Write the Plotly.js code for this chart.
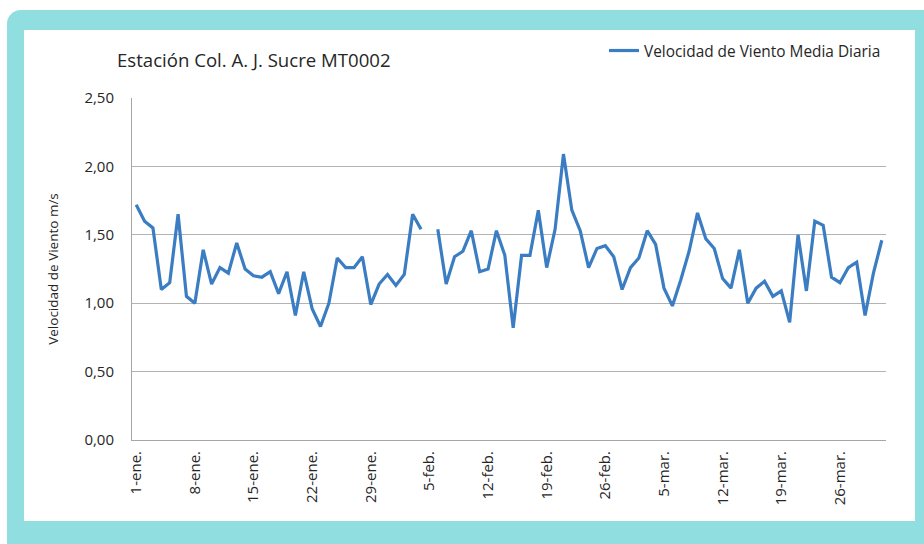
<!DOCTYPE html>
<html>
<head>
<meta charset="utf-8">
<script src="https://cdn.plot.ly/plotly-3.0.1.min.js"></script>
<style>
html,body{margin:0;padding:0;width:924px;height:544px;overflow:hidden;background:#fff;}
#frame{position:absolute;left:7px;top:10px;width:940px;height:560px;background:#90dedf;border-radius:14px;}
#inner{position:absolute;left:24px;top:30px;width:891px;height:491px;background:#fff;}
#chart{position:absolute;left:0;top:0;width:924px;height:544px;}
</style>
</head>
<body>
<div id="frame"></div>
<div id="inner"></div>
<div id="chart"></div>
<script>
// Daily mean wind speed (m/s), 1 Jan - 31 Mar; null = missing day (5-feb)
const eneValues = [1.72,1.60,1.55,1.10,1.15,1.65,1.05,1.00,1.39,1.14,1.26,1.22,1.44,1.25,1.20,1.19,1.23,1.07,1.23,0.91,1.23,0.96,0.83,1.00,1.33,1.26,1.26,1.34,0.99,1.14,1.21];
const febValues = [1.13,1.21,1.65,1.54,null,1.54,1.14,1.34,1.38,1.53,1.23,1.25,1.53,1.35,0.82,1.35,1.35,1.68,1.26,1.54,2.09,1.68,1.53,1.26,1.40,1.42,1.34,1.10];
const marValues = [1.26,1.33,1.53,1.43,1.11,0.98,1.17,1.38,1.66,1.47,1.40,1.18,1.11,1.39,1.00,1.11,1.16,1.05,1.09,0.86,1.50,1.09,1.60,1.57,1.19,1.15,1.26,1.30,0.91,1.22,1.46];
const tickDates = ["2013-01-01","2013-01-08","2013-01-15","2013-01-22","2013-01-29","2013-02-05","2013-02-12","2013-02-19","2013-02-26","2013-03-05","2013-03-12","2013-03-19","2013-03-26"];
const tickLabels = ["1-ene.","8-ene.","15-ene.","22-ene.","29-ene.","5-feb.","12-feb.","19-feb.","26-feb.","5-mar.","12-mar.","19-mar.","26-mar."];
const seriesName = "Velocidad de Viento Media Diaria";

const values = eneValues.concat(febValues, marValues);
const dates = [];
const start = Date.UTC(2013,0,1);
for (let i = 0; i < values.length; i++) {
  dates.push(new Date(start + i*86400000).toISOString().slice(0,10));
}

const font = "'Open Sans', sans-serif";
Plotly.newPlot('chart', [{
  x: dates, y: values, type: 'scatter', mode: 'lines', name: seriesName,
  connectgaps: false,
  line: {color: '#3b7dc2', width: 3.2}
}], {
  width: 924, height: 544,
  paper_bgcolor: 'rgba(0,0,0,0)', plot_bgcolor: '#fff',
  margin: {l: 132, r: 38, t: 98, b: 104},
  font: {family: font, color: '#262626', size: 15},
  title: {text: 'Estación Col. A. J. Sucre MT0002', font: {size: 18.6, color: '#262626', family: font},
    x: 117/924, xanchor: 'left', xref: 'container', y: 1-60/544, yanchor: 'middle', yref: 'container'},
  showlegend: true,
  legend: {x: 1, xanchor: 'right', y: 1+47/342, yanchor: 'middle', bgcolor: 'rgba(0,0,0,0)',
    font: {size: 15.4, color: '#262626'}, itemwidth: 30},
  xaxis: {
    type: 'date', range: ['2012-12-31 12:00', '2013-03-31 12:00'],
    tickvals: tickDates, ticktext: tickLabels, tickangle: -90,
    showgrid: false, showline: true, linecolor: '#a6a6a6', linewidth: 1,
    ticks: '', ticklabelstandoff: 4, tickfont: {size: 15}, zeroline: false, fixedrange: true
  },
  yaxis: {
    range: [0, 2.5], dtick: 0.5, tickformat: '.2f',
    showgrid: true, gridcolor: '#b3b3b3', gridwidth: 1,
    showline: true, linecolor: '#a6a6a6', linewidth: 1, zeroline: false,
    ticks: '', ticklabelstandoff: 14, tickfont: {size: 15},
    title: {text: 'Velocidad de Viento m/s', font: {size: 13.5}, standoff: 22}
  },
  separators: ',.'
}, {displayModeBar: false, staticPlot: true});
</script>
</body>
</html>
